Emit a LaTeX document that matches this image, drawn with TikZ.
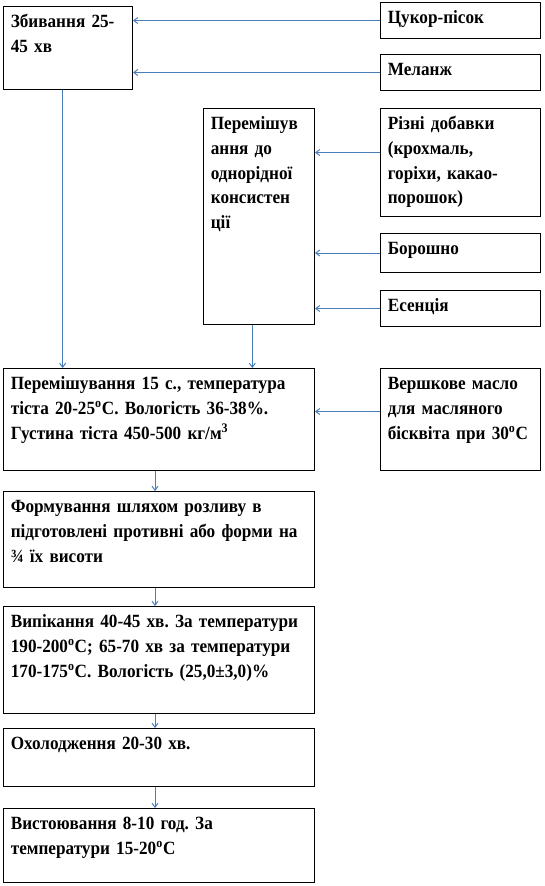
\documentclass[tikz,border=0pt]{standalone}
\usepackage{fontspec}
\setmainfont{Liberation Serif}[FakeStretch=0.92]
\usetikzlibrary{arrows.meta,positioning,calc}
\definecolor{ink}{HTML}{000000}
\definecolor{flow}{HTML}{4A7EBB}

\begin{document}
\frenchspacing
\begin{tikzpicture}[x=0.75pt,y=-0.75pt,
  box/.style 2 args={draw=ink,line width=0.75pt,anchor=north west,align=left,
    text width=#1,text height=10pt,text depth=#2,inner xsep=5.5pt,inner ysep=6pt,
    font=\fontsize{14}{18.5}\selectfont\bfseries},
  arr/.style={-{Straight Barb[length=3pt,width=4.5pt]},draw=flow,line width=0.75pt}]
  \useasboundingbox (0,0) rectangle (545,886);
  % left column
  \node[box={85.75pt}{40.25pt}] (whip) at (3,6) {Збивання 25-\\45 хв};
  \node[box={222.25pt}{54.5pt}] (mixall) at (3,368) {Перемішування 15 с., температура\\тіста 20-25\textsuperscript{o}С. Вологість 36-38\%.\\Густина тіста 450-500 кг/м\textsuperscript{3}};
  \node[box={222.25pt}{50pt}] (mould) at (3,491) {Формування шляхом розливу в\\підготовлені противні або форми на\\¾ їх висоти};
  \node[box={222.25pt}{58.25pt}] (bake) at (3,606) {Випікання 40-45 хв. За температури\\190-200\textsuperscript{o}С; 65-70 хв за температури\\170-175\textsuperscript{o}С. Вологість (25,0±3,0)\%};
  \node[box={222.25pt}{21.5pt}] (cool) at (3,728) {Охолодження 20-30 хв.};
  \node[box={222.25pt}{33.5pt}] (rest) at (3,808) {Вистоювання 8-10 год. За\\температури 15-20\textsuperscript{o}С};
  % middle
  \node[box={72.25pt}{140pt}] (mixdry) at (203,108) {Перемішув\\ання до\\однорідної\\консистен\\ції};
  % inputs
  \node[box={109pt}{5pt}] (sugar) at (380,2) {Цукор-пісок};
  \node[box={109pt}{5pt}] (melange) at (380,54) {Меланж};
  \node[box={109pt}{59pt}] (additives) at (380,108) {Різні добавки\\(крохмаль,\\горіхи, какао-\\порошок)};
  \node[box={109pt}{7.25pt}] (flour) at (380,233) {Борошно};
  \node[box={109pt}{5pt}] (essence) at (380,290) {Есенція};
  \node[box={109pt}{54.5pt}] (butter) at (380,368) {Вершкове масло\\для масляного\\бісквіта при 30\textsuperscript{o}С};
  \coordinate (addout) at ([yshift=7.5pt]additives.west);
  \coordinate (butout) at ([yshift=6pt]butter.west);
  \coordinate (whipout) at ([xshift=-4pt]whip.south);
  \coordinate (dryout) at ([xshift=-5pt]mixdry.south);
  % connectors
  \draw[arr] (sugar.west) -- (whip.east|-sugar.west);
  \draw[arr] (melange.west) -- (whip.east|-melange.west);
  \draw[arr] (addout) -- (mixdry.east|-addout);
  \draw[arr] (flour.west) -- (mixdry.east|-flour.west);
  \draw[arr] (essence.west) -- (mixdry.east|-essence.west);
  \draw[arr] (butout) -- (mixall.east|-butout);
  \draw[arr] (whipout) -- (whipout|-mixall.north);
  \draw[arr] (dryout) -- (dryout|-mixall.north);
  \foreach \a/\b in {mixall/mould,mould/bake,bake/cool,cool/rest}
    \draw[arr] ([xshift=-3pt]\a.south) -- ([xshift=-3pt]\a.south|-\b.north);
\end{tikzpicture}
\end{document}
